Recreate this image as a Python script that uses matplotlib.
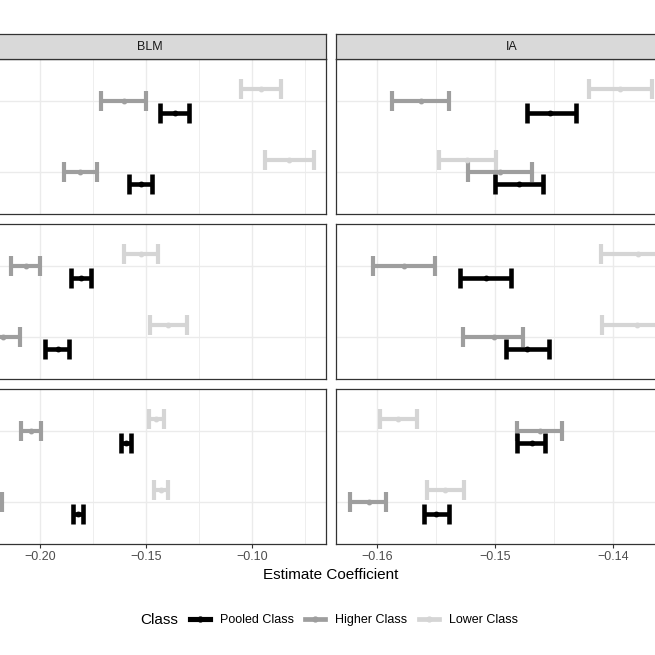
# estimate coefficients by class, faceted (BLM / IA) - cropped view

import numpy as np
import matplotlib
matplotlib.use('Agg')
import matplotlib.pyplot as plt
import matplotlib.ticker as plticker
from matplotlib.lines import Line2D

plt.rcParams['font.family'] = ['Liberation Sans', 'DejaVu Sans']

# facets
columns = ['BLM', 'IA']
rows = ['Model 1', 'Model 2', 'Model 3']
categories = ['Cat A', 'Cat B']          # bottom, top
classes = ['Pooled Class', 'Higher Class', 'Lower Class']

# values [row][column][category] -> (estimate, low, high)
pooled = [
    [[(-0.1525, -0.1578, -0.1471), (-0.1365, -0.1434, -0.1297)],
     [(-0.1480, -0.1500, -0.1459), (-0.1453, -0.1473, -0.1431)]],
    [[(-0.1917, -0.1977, -0.1863), (-0.1808, -0.1855, -0.1759)],
     [(-0.1473, -0.1491, -0.1454), (-0.1508, -0.1530, -0.1486)]],
    [[(-0.1821, -0.1844, -0.1797), (-0.1596, -0.1620, -0.1572)],
     [(-0.1550, -0.1560, -0.1539), (-0.1469, -0.1481, -0.1458)]],
]
higher = [
    [[(-0.1809, -0.1885, -0.1732), (-0.1604, -0.1710, -0.1500)],
     [(-0.1496, -0.1523, -0.1469), (-0.1563, -0.1587, -0.1539)]],
    [[(-0.2173, -0.2252, -0.2094), (-0.2068, -0.2137, -0.2002)],
     [(-0.1501, -0.1527, -0.1476), (-0.1577, -0.1603, -0.1551)]],
    [[(-0.2230, -0.2280, -0.2181), (-0.2042, -0.2091, -0.1993)],
     [(-0.1607, -0.1623, -0.1592), (-0.1462, -0.1481, -0.1443)]],
]
lower = [
    [[(-0.0826, -0.0937, -0.0707), (-0.0959, -0.1054, -0.0861)],
     [(-0.1524, -0.1547, -0.1499), (-0.1394, -0.1420, -0.1367)]],
    [[(-0.1395, -0.1482, -0.1308), (-0.1523, -0.1605, -0.1443)],
     [(-0.1380, -0.1409, -0.1351), (-0.1379, -0.1410, -0.1348)]],
    [[(-0.1428, -0.1461, -0.1395), (-0.1452, -0.1485, -0.1417)],
     [(-0.1542, -0.1558, -0.1526), (-0.1582, -0.1597, -0.1566)]],
]
col_ticks = [[-0.20, -0.15, -0.10], [-0.16, -0.15, -0.14]]
col_xlim = [(-0.2311, -0.0651), (-0.16347, -0.13364)]

data = {'Pooled Class': pooled, 'Higher Class': higher, 'Lower Class': lower}
colors = {'Pooled Class': 'black', 'Higher Class': '#9e9e9e', 'Lower Class': '#d5d5d5'}
widths = {'Pooled Class': 3.3, 'Higher Class': 3.0, 'Lower Class': 3.0}
dodge = {'Pooled Class': -0.17, 'Higher Class': 0.0, 'Lower Class': 0.17}
draw_order = ['Lower Class', 'Higher Class', 'Pooled Class']

W = H = 655.0
fig = plt.figure(figsize=(6.55, 6.55), dpi=100)

# panel layout in pixels
col_px = [(-26, 326), (336, 688)]
row_px = [(59, 214), (224, 379), (389, 544)]
strip_px = (34, 59)

def rect(x0, x1, y0, y1):
    return [x0 / W, 1 - y1 / H, (x1 - x0) / W, (y1 - y0) / H]

grid_col = '#ebebeb'
edge_col = '#333333'

for r in range(len(rows)):
    for c in range(len(columns)):
        ax = fig.add_axes(rect(col_px[c][0], col_px[c][1], row_px[r][0], row_px[r][1]))
        ax.set_xlim(col_xlim[c])
        ax.set_ylim(0.4, 2.6)
        step = col_ticks[c][1] - col_ticks[c][0]
        ax.xaxis.set_major_locator(plticker.MultipleLocator(step))
        ax.xaxis.set_minor_locator(plticker.MultipleLocator(step / 2))
        ax.set_yticks(range(1, len(categories) + 1))
        ax.grid(which='major', color=grid_col, lw=1.0, zorder=0)
        ax.grid(which='minor', axis='x', color=grid_col, lw=0.6, zorder=0)
        ax.set_axisbelow(True)
        for s in ax.spines.values():
            s.set_color(edge_col)
            s.set_linewidth(0.9)
        ax.tick_params(which='minor', length=0)
        ax.tick_params(which='major', length=3.0, width=0.8, color=edge_col,
                       labelsize=9, labelcolor='#4d4d4d', pad=2.2)
        # y labels lie outside the cropped view
        ax.tick_params(axis='y', labelleft=False)
        if r < len(rows) - 1:
            ax.tick_params(axis='x', labelbottom=False, length=0)
        if c > 0:
            ax.tick_params(axis='y', length=0)

        for cl in draw_order:
            vals = np.array(data[cl][r][c])
            est, lo, hi = vals[:, 0], vals[:, 1], vals[:, 2]
            ypos = np.arange(1, len(categories) + 1) + dodge[cl]
            ax.errorbar(est, ypos, xerr=[est - lo, hi - est], fmt='o',
                        color=colors[cl], ms=3.2, elinewidth=widths[cl],
                        capsize=7.2, capthick=widths[cl], zorder=3)

        if r == 0:
            sax = fig.add_axes(rect(col_px[c][0], col_px[c][1], strip_px[0], strip_px[1]))
            sax.set_facecolor('#d9d9d9')
            sax.set_xticks([])
            sax.set_yticks([])
            for s in sax.spines.values():
                s.set_color(edge_col)
                s.set_linewidth(0.9)
            sax.text(0.5, 0.5, columns[c], transform=sax.transAxes, ha='center',
                     va='center', fontsize=9, color='#1a1a1a')

fig.text(331 / W, 1 - 575 / H, 'Estimate Coefficient', ha='center', va='center',
         fontsize=11, color='black')

# legend
handles = [Line2D([0], [0], color=colors[cl], lw=widths[cl] + 0.4, marker='o', ms=3.5)
           for cl in classes]
fig.text(140 / W, 1 - 620 / H, 'Class', ha='left', va='center', fontsize=11)
fig.legend(handles, classes, loc='center left', bbox_to_anchor=(190 / W, 1 - 620 / H),
           ncol=3, frameon=False, fontsize=9, handlelength=1.6, handletextpad=0.8,
           columnspacing=0.9, borderpad=0, borderaxespad=0)

plt.savefig('out.png', dpi=100)
plt.close()
